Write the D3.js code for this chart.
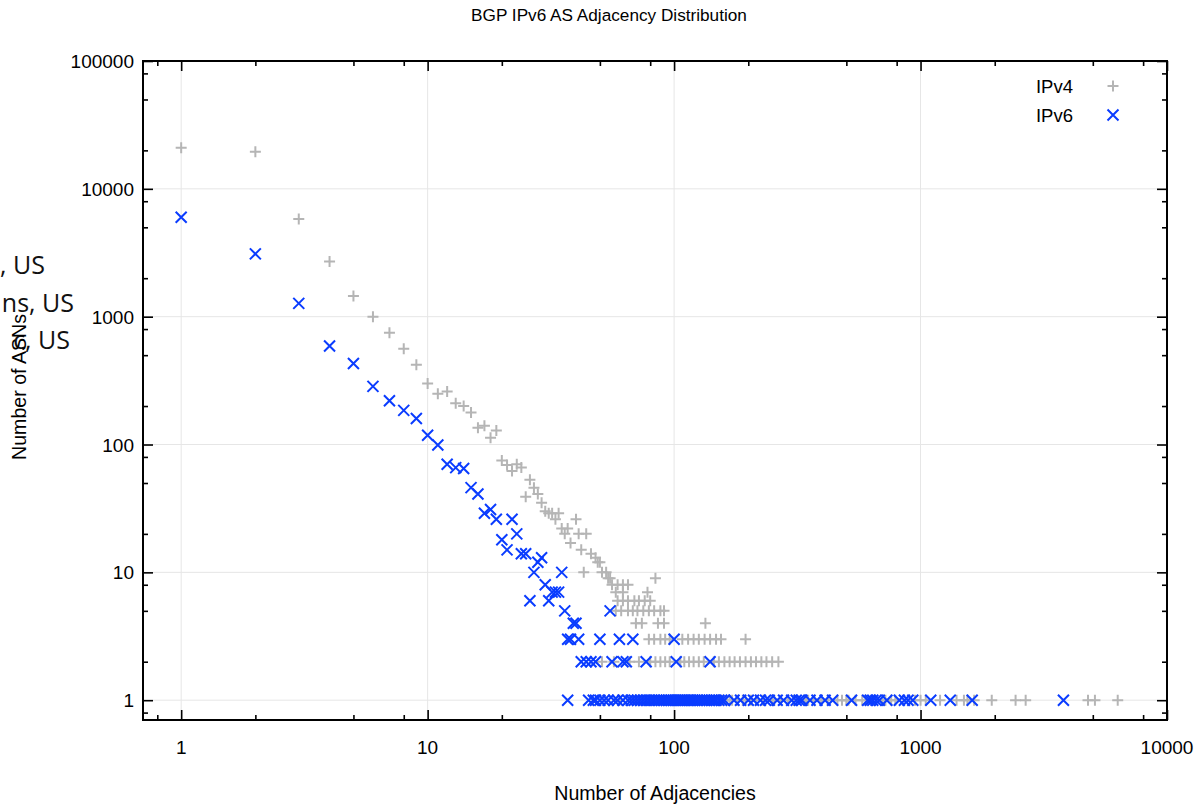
<!DOCTYPE html>
<html>
<head>
<meta charset="utf-8">
<script src="https://cdn.jsdelivr.net/npm/d3@7"></script>
<style>
  html, body { margin: 0; padding: 0; background: #fff; }
  svg { display: block; }
</style>
</head>
<body>
<script>
// ---------- DATA ----------
const chartTitle = "BGP IPv6 AS Adjacency Distribution";
const xLabel = "Number of Adjacencies";
const yLabel = "Number of ASNs";
const seriesNames = ["IPv4", "IPv6"];
const xMajorTicks = [1, 10, 100, 1000, 10000];
const xMinorTicks = [0.8, 2, 5, 8, 20, 50, 80, 200, 500, 800, 2000, 5000, 8000];
const yMajorTicks = [1, 10, 100, 1000, 10000, 100000];
const yMinorTicks = [0.8, 2, 5, 8, 20, 50, 80, 200, 500, 800, 2000, 5000, 8000, 20000, 50000, 80000];
const leftFragments = [", US", "ns, US", "c, US"];

// IPv4 points [adjacencies, number of ASNs]
const ipv4Points = [
  [1,21000],[2,19500],[3,5800],[4,2700],[5,1450],[6,1000],[7,750],[8,560],[9,420],[10,300],
  [11,250],[12,260],[13,210],[14,200],[15,178],[16,135],[17,140],[18,113],[19,129],[20,75],
  [21,69],[22,62],[23,70],[24,66],[25,39],[26,53],[27,46],[28,41],[29,35],[30,30],
  [31,29],[32,29],[33,26],[34,29],[35,22],[36,20],[37,22],[38,17],[40,26],[41,20],
  [42,15],[43,10],[44,20],[46,14],[48,13],[49,12],[50,12],[51,10],[53,10],[54,9],[55,9],[84,9],
  [56,8],[59,8],[62,8],[65,8],[58,7],[62,7],[78,7],
  [59,6],[62,6],[65,6],[69,6],[72,6],[76,6],[80,6],
  [58,5],[61,5],[65,5],[68,5],[71,5],[75,5],[79,5],[83,5],[88,5],[91,5],
  [70,4],[74,4],[86,4],[91,4],[134,4],
  [79,3],[83,3],[88,3],[92,3],[96,3],[108,3],[114,3],[120,3],[126,3],[133,3],[140,3],[148,3],[155,3],[195,3],
  [51,2],[57,2],[66,2],[72,2],[80,2],[84,2],[88,2],[92,2],[96,2],[106,2],[110,2],[115,2],[120,2],[126,2],
  [132,2],[145,2],[152,2],[160,2],[168,2],[176,2],[185,2],[195,2],[205,2],[215,2],[226,2],[237,2],[250,2],[265,2],
  [60,1],[70,1],[80,1],[90,1],[100,1],[110,1],[120,1],[130,1],[140,1],[150,1],[158,1],[163,1],[168,1],[172,1],
  [180,1],[190,1],[195,1],[205,1],[215,1],[230,1],[250,1],[255,1],[270,1],[290,1],[305,1],[340,1],[345,1],
  [350,1],[370,1],[395,1],[420,1],[460,1],[480,1],[500,1],[510,1],[545,1],[580,1],[600,1],[700,1],[720,1],
  [760,1],[790,1],[950,1],[1000,1],[1050,1],[1200,1],[1400,1],[1500,1],[1550,1],[1650,1],
  [1945,1],[2430,1],[2670,1],[4780,1],[5100,1],[6310,1]
];

// IPv6 points [adjacencies, number of ASNs]
const ipv6Points = [
  [1,6000],[2,3100],[3,1270],[4,590],[5,430],[6,285],[7,220],[8,185],[9,160],[10,118],
  [11,99],[12,70],[13,66],[14,65],[15,46],[16,41],[17,29],[18,31],[19,26],[20,18],
  [21,15],[22,26],[23,20],[24,14],[25,14],[26,6],[27,10],[28,12],[29,13],[30,8],
  [31,6],[32,7],[33,7],[34,7],[35,10],[36,5],[37,3],[38,3],[39,4],[40,4],[41,3],[55,5],
  [50,3],[60,3],[68,3],[100,3],
  [42,2],[44,2],[46,2],[48,2],[56,2],[62,2],[64,2],[77,2],[102,2],[140,2],
  [37,1],[45,1],[47,1],[48,1],[50,1],[52,1],[54,1],[57,1],[59,1],[62,1],[65,1],[67,1],[69,1],[71,1],
  [73,1],[75,1],[77,1],[79,1],[81,1],[83,1],[85,1],[87,1],[89,1],[91,1],[93,1],[95,1],[97,1],[99,1],
  [101,1],[103,1],[105,1],[107,1],[109,1],[111,1],[113,1],[115,1],[117,1],[119,1],[121,1],[124,1],
  [127,1],[130,1],[133,1],[136,1],[139,1],[142,1],[145,1],[148,1],[152,1],[156,1],[160,1],[175,1],
  [186,1],[200,1],[210,1],[224,1],[235,1],[243,1],[262,1],[278,1],[300,1],[313,1],[322,1],[330,1],
  [356,1],[380,1],[410,1],[440,1],[525,1],[610,1],[625,1],[640,1],[660,1],[680,1],[730,1],[820,1],
  [860,1],[890,1],[930,1],[1100,1],[1320,1],[1620,1],[3800,1]
];

// ---------- LAYOUT ----------
const W = 1196, H = 805;
const plot = { left: 143, right: 1167, top: 61, bottom: 720 };
const colors = { ipv4: "#b5b5b5", ipv6: "#0a3cff", grid: "#e6e6e6" };
const fontMain = "'Liberation Sans', Arial, Helvetica, sans-serif";

const svg = d3.select("body").append("svg")
  .attr("width", W).attr("height", H)
  .attr("font-family", fontMain);

const x = d3.scaleLog().domain([0.7, 10000]).range([plot.left, plot.right]);
const y = d3.scaleLog().domain([0.7, 100000]).range([plot.bottom, plot.top]);

// grid
const grid = svg.append("g");
grid.selectAll("line.gx").data(xMajorTicks.filter(v => v < 10000)).join("line")
  .attr("x1", d => x(d)).attr("x2", d => x(d))
  .attr("y1", plot.top).attr("y2", plot.bottom)
  .attr("stroke", colors.grid).attr("stroke-width", 1);
grid.selectAll("line.gy").data(yMajorTicks.filter(v => v < 100000)).join("line")
  .attr("y1", d => y(d)).attr("y2", d => y(d))
  .attr("x1", plot.left).attr("x2", plot.right)
  .attr("stroke", colors.grid).attr("stroke-width", 1);

// left overlapping text fragments
const fragPos = [{x: 45, y: 274}, {x: 74, y: 312}, {x: 70, y: 349}];
svg.append("g").selectAll("text").data(leftFragments).join("text")
  .attr("x", (d, i) => fragPos[i].x).attr("y", (d, i) => fragPos[i].y)
  .attr("text-anchor", "end")
  .attr("font-family", "'Open Sans', 'Noto Sans', sans-serif")
  .attr("font-size", 25).attr("fill", "#111")
  .text(d => d);

// axes (ticks inward on all four sides)
function drawAxis(axisFn, scale, transform, major, minor) {
  const gMaj = svg.append("g").attr("transform", transform)
    .call(axisFn(scale).tickValues(major).tickSize(-10).tickFormat(""));
  const gMin = svg.append("g").attr("transform", transform)
    .call(axisFn(scale).tickValues(minor).tickSize(-5).tickFormat(""));
  [gMaj, gMin].forEach(g => {
    g.select(".domain").remove();
    g.selectAll(".tick line").attr("stroke", "#000").attr("stroke-width", 1.6);
  });
}
drawAxis(d3.axisBottom, x, `translate(0,${plot.bottom})`, xMajorTicks, xMinorTicks);
drawAxis(d3.axisTop, x, `translate(0,${plot.top})`, xMajorTicks, xMinorTicks);
drawAxis(d3.axisLeft, y, `translate(${plot.left},0)`, yMajorTicks, yMinorTicks);
drawAxis(d3.axisRight, y, `translate(${plot.right},0)`, yMajorTicks, yMinorTicks);

// frame
svg.append("rect")
  .attr("x", plot.left).attr("y", plot.top)
  .attr("width", plot.right - plot.left).attr("height", plot.bottom - plot.top)
  .attr("fill", "none").attr("stroke", "#000").attr("stroke-width", 2);

// tick labels
svg.append("g").selectAll("text").data(xMajorTicks).join("text")
  .attr("x", d => x(d)).attr("y", 754)
  .attr("text-anchor", "middle").attr("font-size", 19).attr("fill", "#000")
  .text(d => d);
svg.append("g").selectAll("text").data(yMajorTicks).join("text")
  .attr("x", 134).attr("y", d => y(d) + 7)
  .attr("text-anchor", "end").attr("font-size", 19).attr("fill", "#000")
  .text(d => d);

// markers
const s = 5.5;
const plusPath = `M${-s},0H${s}M0,${-s}V${s}`;
const crossPath = `M${-s},${-s}L${s},${s}M${-s},${s}L${s},${-s}`;

svg.append("g").selectAll("path").data(ipv4Points).join("path")
  .attr("transform", d => `translate(${x(d[0])},${y(d[1])})`)
  .attr("d", plusPath).attr("fill", "none")
  .attr("stroke", colors.ipv4).attr("stroke-width", 2);
svg.append("g").selectAll("path").data(ipv6Points).join("path")
  .attr("transform", d => `translate(${x(d[0])},${y(d[1])})`)
  .attr("d", crossPath).attr("fill", "none")
  .attr("stroke", colors.ipv6).attr("stroke-width", 2);

// legend
const legend = svg.append("g");
const legendRows = [
  { name: seriesNames[0], path: plusPath, color: colors.ipv4, y: 86 },
  { name: seriesNames[1], path: crossPath, color: colors.ipv6, y: 115 }
];
legend.selectAll("text").data(legendRows).join("text")
  .attr("x", 1073).attr("y", d => d.y + 6.5)
  .attr("text-anchor", "end").attr("font-size", 18.5).attr("fill", "#000")
  .text(d => d.name);
legend.selectAll("path").data(legendRows).join("path")
  .attr("transform", d => `translate(1113,${d.y})`)
  .attr("d", d => d.path).attr("fill", "none")
  .attr("stroke", d => d.color).attr("stroke-width", 2);

// title and axis labels
svg.append("text").attr("x", 609).attr("y", 21)
  .attr("text-anchor", "middle").attr("font-size", 17.2).attr("fill", "#000")
  .text(chartTitle);
svg.append("text").attr("x", 655).attr("y", 800)
  .attr("text-anchor", "middle").attr("font-size", 19.6).attr("fill", "#000")
  .text(xLabel);
svg.append("text")
  .attr("transform", "translate(26,387) rotate(-90)")
  .attr("text-anchor", "middle").attr("font-size", 19.6).attr("fill", "#000")
  .text(yLabel);
</script>
</body>
</html>
